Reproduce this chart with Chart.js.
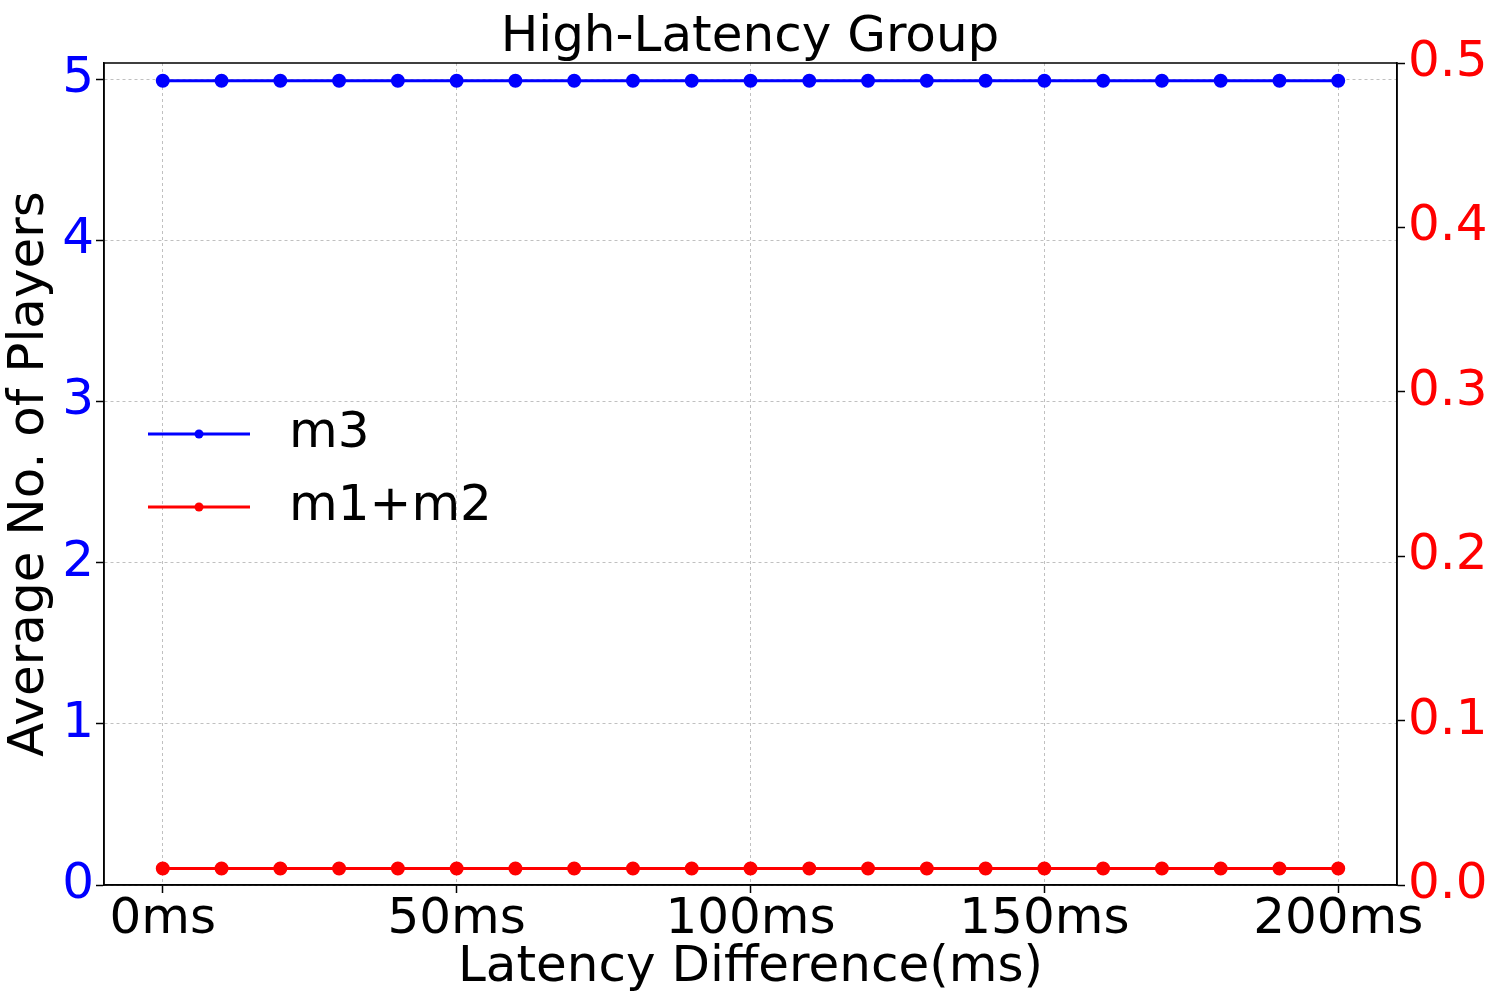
<!DOCTYPE html>
<html>
<head>
<meta charset="utf-8">
<script src="https://cdn.jsdelivr.net/npm/chart.js@4.4.0/dist/chart.umd.min.js"></script>
<style>
  html, body { margin: 0; padding: 0; background: #fff; }
  #wrap { width: 1500px; height: 1000px; }
</style>
</head>
<body>
<div id="wrap"><canvas id="chart" width="1500" height="1000"></canvas></div>
<script>
const latencies = [0, 10, 20, 30, 40, 50, 60, 70, 80, 90, 100, 110, 120, 130, 140, 150, 160, 170, 180, 190, 200];
const m3Values = [4.99, 4.99, 4.99, 4.99, 4.99, 4.99, 4.99, 4.99, 4.99, 4.99, 4.99, 4.99, 4.99, 4.99, 4.99, 4.99, 4.99, 4.99, 4.99, 4.99, 4.99];
const m12Values = [0.01, 0.01, 0.01, 0.01, 0.01, 0.01, 0.01, 0.01, 0.01, 0.01, 0.01, 0.01, 0.01, 0.01, 0.01, 0.01, 0.01, 0.01, 0.01, 0.01, 0.01];
const seriesLabels = ["m3", "m1+m2"];

const FONT = "'DejaVu Sans', sans-serif";
const SIZE = 50;

// box round the plot + legend inside the plot
const framePlugin = {
    id: "frame",
    afterDraw(chart) {
        const c = chart.ctx;
        const a = chart.chartArea;
        c.save();
        c.strokeStyle = "#000";
        c.lineWidth = 1.5;
        c.strokeRect(a.left, a.top, a.right - a.left, a.bottom - a.top);

        // legend
        const rows = [434, 507];
        chart.data.datasets.forEach((ds, i) => {
            const y = rows[i];
            c.strokeStyle = ds.borderColor;
            c.lineWidth = 3;
            c.beginPath();
            c.moveTo(148, y);
            c.lineTo(250, y);
            c.stroke();
            c.fillStyle = ds.borderColor;
            c.beginPath();
            c.arc(199, y, 4.5, 0, Math.PI * 2);
            c.fill();
            c.fillStyle = "#000";
            c.font = SIZE + "px " + FONT;
            c.textBaseline = "middle";
            c.textAlign = "left";
            c.fillText(ds.label, 289, y);
        });
        c.restore();
    }
};

const ctx = document.getElementById("chart").getContext("2d");

new Chart(ctx, {
    type: "line",
    data: {
        datasets: [{
            label: seriesLabels[0],
            data: latencies.map((x, i) => ({ x: x, y: m3Values[i] })),
            borderColor: "#0000ff",
            backgroundColor: "#0000ff",
            borderWidth: 3,
            pointRadius: 5.5,
            pointHoverRadius: 5.5,
            yAxisID: "y"
        }, {
            label: seriesLabels[1],
            data: latencies.map((x, i) => ({ x: x, y: m12Values[i] })),
            borderColor: "#ff0000",
            backgroundColor: "#ff0000",
            borderWidth: 3,
            pointRadius: 5.5,
            pointHoverRadius: 5.5,
            yAxisID: "y1"
        }]
    },
    options: {
        responsive: false,
        animation: false,
        layout: { padding: 0 },
        plugins: {
            legend: { display: false },
            tooltip: { enabled: false },
            title: {
                display: true,
                text: "High-Latency Group",
                color: "#000",
                font: { family: FONT, size: SIZE, weight: "normal", lineHeight: 1.0 },
                padding: { top: 13, bottom: 0 }
            }
        },
        scales: {
            x: {
                type: "linear",
                min: -10,
                max: 210,
                afterFit: s => { s.height = 115; },
                ticks: {
                    stepSize: 50,
                    includeBounds: false,
                    color: "#000",
                    padding: -3,
                    maxRotation: 0,
                    font: { family: FONT, size: SIZE },
                    callback: v => v + "ms"
                },
                grid: { color: "#b0b0b0", lineWidth: 0.8, tickColor: "#000", tickLength: 8, tickWidth: 1.5 },
                border: { color: "#000", width: 1.5, dash: [3, 3] },
                title: {
                    display: true,
                    text: "Latency Difference(ms)",
                    color: "#000",
                    font: { family: FONT, size: SIZE },
                    padding: { top: 0, bottom: 2 }
                }
            },
            y: {
                position: "left",
                min: 0,
                max: 5.1,
                afterFit: s => { s.width = 104; },
                ticks: {
                    stepSize: 1,
                    includeBounds: false,
                    color: "#0000ff",
                    padding: 2,
                    font: { family: FONT, size: SIZE }
                },
                grid: { color: "#b0b0b0", lineWidth: 0.8, tickColor: "#000", tickLength: 8, tickWidth: 1.5 },
                border: { color: "#000", width: 1.5, dash: [3, 3] },
                title: {
                    display: true,
                    text: "Average No. of Players",
                    color: "#000",
                    font: { family: FONT, size: SIZE },
                    padding: { top: 0, bottom: 0 }
                }
            },
            y1: {
                position: "right",
                min: 0,
                max: 0.5,
                afterFit: s => { s.width = 103; },
                ticks: {
                    stepSize: 0.1,
                    color: "#ff0000",
                    padding: 3,
                    font: { family: FONT, size: SIZE },
                    callback: v => v.toFixed(1)
                },
                grid: { drawOnChartArea: false, tickColor: "#000", tickLength: 8, tickWidth: 1.5 },
                border: { color: "#000", width: 1.5 }
            }
        }
    },
    plugins: [framePlugin]
});
</script>
</body>
</html>
